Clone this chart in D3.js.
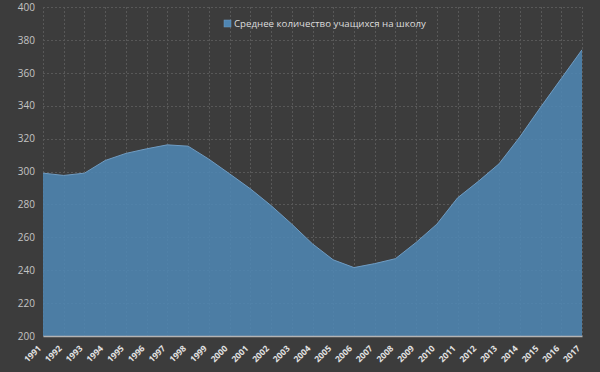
<!DOCTYPE html>
<html>
<head>
<meta charset="utf-8">
<script src="https://cdn.jsdelivr.net/npm/d3@7"></script>
<style>
  body { margin: 0; background: #3c3c3c; }
  svg { display: block; }
</style>
</head>
<body>
<div id="chart"></div>
<script>
// data
var years = [1991, 1992, 1993, 1994, 1995, 1996, 1997, 1998, 1999, 2000, 2001, 2002, 2003,
	2004, 2005, 2006, 2007, 2008, 2009, 2010, 2011, 2012, 2013, 2014, 2015, 2016, 2017];
var students = [299, 297.6, 299, 306.7, 311, 313.8, 316.2, 315.4, 307.5, 298.6, 289.5, 279.3, 268,
	256, 246.3, 241.6, 244, 247, 256.9, 268, 284, 294, 304.7, 321, 339, 356.5, 374];
var yTicks = [200, 220, 240, 260, 280, 300, 320, 340, 360, 380, 400];
var seriesName = "Среднее количество учащихся на школу";

var WIDTH = 600, HEIGHT = 372;
var margin = { top: 7, right: 18, bottom: 36, left: 43 };
var FONT = '"Open Sans", "DejaVu Sans", sans-serif';

function plotArea() {
	const svg = d3.select('#chart')
		.append('svg')
		.attr('width', WIDTH)
		.attr('height', HEIGHT)
		.style('font-family', FONT);

	svg.append('rect')
		.attr('width', WIDTH)
		.attr('height', HEIGHT)
		.attr('fill', '#3c3c3c');

	const x = d3.scaleLinear()
		.domain([years[0], years[years.length - 1]])
		.range([margin.left, WIDTH - margin.right]);
	const y = d3.scaleLinear()
		.domain([200, 400])
		.range([HEIGHT - margin.bottom, margin.top]);

	// grid
	const grid = svg.append('g')
		.attr('stroke', '#585858')
		.attr('stroke-width', 1)
		.attr('stroke-dasharray', '2,2');
	grid.selectAll('.h')
		.data(yTicks)
		.enter()
		.append('line')
		.attr('x1', margin.left)
		.attr('x2', WIDTH - margin.right)
		.attr('y1', d => Math.round(y(d)) + 0.5)
		.attr('y2', d => Math.round(y(d)) + 0.5);
	grid.selectAll('.v')
		.data(years)
		.enter()
		.append('line')
		.attr('x1', d => Math.round(x(d)) + 0.5)
		.attr('x2', d => Math.round(x(d)) + 0.5)
		.attr('y1', margin.top)
		.attr('y2', HEIGHT - margin.bottom);

	const points = years.map((yr, i) => ({ year: yr, value: students[i] }));

	const area = d3.area()
		.x(d => x(d.year))
		.y0(y(200))
		.y1(d => y(d.value));
	svg.append('path')
		.datum(points)
		.attr('d', area)
		.attr('fill', '#4f86b3')
		.attr('fill-opacity', 0.88);

	const line = d3.line()
		.x(d => x(d.year))
		.y(d => y(d.value));
	svg.append('path')
		.datum(points)
		.attr('d', line)
		.attr('fill', 'none')
		.attr('stroke', '#6f9cc3')
		.attr('stroke-width', 1);

	// y axis labels
	const yAxis = svg.append('g')
		.attr('transform', `translate(${margin.left},0)`)
		.call(d3.axisLeft(y).tickValues(yTicks).tickSize(0).tickPadding(8));
	yAxis.select('.domain').remove();
	yAxis.selectAll('text')
		.attr('fill', '#c4c4c4')
		.style('font-size', '10px')
		.style('font-family', FONT);

	// x axis, labels rotated and hanging below-left of the tick
	const xAxis = svg.append('g')
		.attr('transform', `translate(0,${HEIGHT - margin.bottom})`)
		.call(d3.axisBottom(x).tickValues(years).tickFormat(d3.format('d')).tickSize(0));
	xAxis.select('.domain')
		.attr('stroke', '#b4b4b4')
		.attr('stroke-width', 1.5);
	xAxis.selectAll('text')
		.attr('fill', '#e2e2e2')
		.attr('x', 0)
		.attr('y', 0)
		.attr('dy', '0.35em')
		.style('font-size', '8.5px')
		.style('font-weight', 'bold')
		.style('font-family', FONT)
		.attr('text-anchor', 'end')
		.attr('transform', 'translate(-4,11) rotate(-45)');

	// legend
	const legend = svg.append('g')
		.attr('transform', 'translate(224,20)');
	legend.append('rect')
		.attr('width', 7)
		.attr('height', 7)
		.attr('fill', '#4f86b3')
		.attr('stroke', '#6f9cc3')
		.attr('stroke-width', 0.5);
	legend.append('text')
		.attr('x', 10)
		.attr('y', 7)
		.attr('fill', '#dcdcdc')
		.style('font-size', '9.7px')
		.text(seriesName);
}

plotArea();
</script>
</body>
</html>
